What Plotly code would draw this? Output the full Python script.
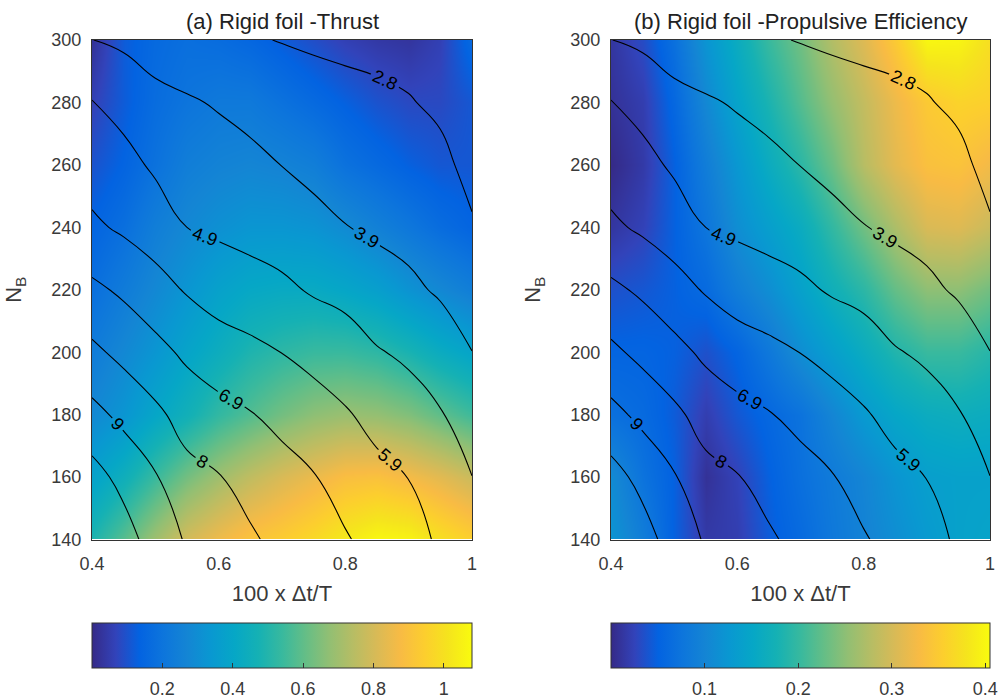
import plotly.graph_objects as go

# ---- grid: 100 x dt/T (columns) and N_B (rows) ----
dt_ratio = [0.40, 0.45, 0.50, 0.55, 0.60, 0.65, 0.70, 0.75, 0.80, 0.85, 0.90, 0.95, 1.00]
n_b = [140, 160, 180, 200, 220, 240, 260, 280, 300]

# thrust coefficient, rows follow n_b
thrust = [
    [0.49, 0.59, 0.70, 0.80, 0.86, 0.91, 0.94, 0.98, 1.03, 1.07, 1.06, 1.00, 0.95],
    [0.38, 0.45, 0.54, 0.63, 0.70, 0.76, 0.81, 0.85, 0.89, 0.90, 0.87, 0.83, 0.78],
    [0.28, 0.33, 0.40, 0.46, 0.53, 0.58, 0.63, 0.67, 0.69, 0.68, 0.65, 0.60, 0.55],
    [0.23, 0.28, 0.33, 0.39, 0.44, 0.49, 0.52, 0.54, 0.54, 0.52, 0.48, 0.43, 0.39],
    [0.18, 0.23, 0.28, 0.33, 0.38, 0.41, 0.42, 0.42, 0.40, 0.37, 0.32, 0.28, 0.24],
    [0.14, 0.18, 0.24, 0.28, 0.31, 0.33, 0.33, 0.32, 0.29, 0.25, 0.21, 0.17, 0.14],
    [0.10, 0.14, 0.19, 0.24, 0.26, 0.27, 0.26, 0.24, 0.19, 0.16, 0.13, 0.11, 0.11],
    [0.06, 0.12, 0.17, 0.20, 0.22, 0.22, 0.19, 0.16, 0.13, 0.10, 0.08, 0.08, 0.11],
    [0.02, 0.12, 0.16, 0.18, 0.17, 0.15, 0.12, 0.09, 0.06, 0.04, 0.03, 0.06, 0.16],
]

# propulsive efficiency, rows follow n_b
efficiency = [
    [0.122, 0.089, 0.049, 0.016, 0.020, 0.045, 0.061, 0.081, 0.097, 0.113, 0.130, 0.142, 0.146],
    [0.109, 0.073, 0.049, 0.008, 0.024, 0.049, 0.069, 0.085, 0.101, 0.122, 0.138, 0.142, 0.142],
    [0.069, 0.061, 0.045, 0.020, 0.041, 0.057, 0.073, 0.101, 0.130, 0.150, 0.162, 0.166, 0.162],
    [0.053, 0.053, 0.049, 0.036, 0.053, 0.081, 0.113, 0.138, 0.162, 0.186, 0.203, 0.203, 0.190],
    [0.036, 0.041, 0.049, 0.061, 0.089, 0.113, 0.142, 0.170, 0.194, 0.227, 0.251, 0.251, 0.235],
    [0.012, 0.024, 0.049, 0.077, 0.113, 0.138, 0.162, 0.198, 0.235, 0.271, 0.304, 0.308, 0.292],
    [0.000, 0.016, 0.049, 0.089, 0.126, 0.162, 0.194, 0.231, 0.279, 0.312, 0.336, 0.340, 0.324],
    [0.008, 0.020, 0.057, 0.105, 0.146, 0.182, 0.219, 0.255, 0.288, 0.320, 0.348, 0.360, 0.356],
    [0.012, 0.032, 0.069, 0.122, 0.162, 0.203, 0.235, 0.275, 0.308, 0.348, 0.400, 0.398, 0.373],
]

# overlaid iso-lines (same field on both panels), rows follow n_b
iso_field = [
    [11.46, 10.44, 9.56, 8.89, 8.48, 8.08, 7.72, 7.37, 7.02, 6.62, 6.21, 5.80, 5.45],
    [10.39, 9.71, 9.07, 8.25, 8.01, 7.65, 7.26, 6.99, 6.56, 6.17, 5.90, 5.38, 4.90],
    [9.29, 8.73, 8.17, 7.59, 7.25, 6.99, 6.70, 6.35, 6.01, 5.62, 5.32, 4.96, 4.39],
    [8.18, 7.69, 7.25, 6.74, 6.39, 6.17, 5.90, 5.61, 5.33, 4.96, 4.72, 4.33, 3.875],
    [7.15, 6.77, 6.28, 5.83, 5.47, 5.25, 5.07, 4.79, 4.62, 4.27, 4.03, 3.76, 3.40],
    [6.09, 5.76, 5.44, 4.89, 4.72, 4.59, 4.43, 4.15, 3.89, 3.72, 3.60, 3.40, 2.92],
    [5.47, 5.21, 4.73, 4.43, 4.27, 4.11, 3.85, 3.62, 3.48, 3.36, 3.25, 3.04, 2.60],
    [4.93, 4.55, 4.16, 3.97, 3.78, 3.55, 3.33, 3.18, 3.08, 2.99, 2.89, 2.69, 2.30],
    [3.875, 3.69, 3.40, 3.21, 3.04, 2.91, 2.81, 2.73, 2.67, 2.63, 2.54, 2.40, 2.00],
]
iso_start, iso_step, iso_end = 2.84, 1.025, 10.1

x_ticks = [0.4, 0.6, 0.8, 1.0]
x_ticktext = ["0.4", "0.6", "0.8", "1"]
y_ticks = [140, 160, 180, 200, 220, 240, 260, 280, 300]
thrust_ticks = [0.2, 0.4, 0.6, 0.8, 1.0]
thrust_ticktext = ["0.2", "0.4", "0.6", "0.8", "1"]
eff_ticks = [0.1, 0.2, 0.3, 0.4]
eff_ticktext = ["0.1", "0.2", "0.3", "0.4"]

titles = ["(a) Rigid foil -Thrust", "(b) Rigid foil -Propulsive Efficiency"]

# parula-style colour scale
parula_rgb = [
    (0.2081, 0.1663, 0.5292), (0.1959, 0.2645, 0.7279), (0.0117, 0.3875, 0.8820),
    (0.0498, 0.4586, 0.8641), (0.0793, 0.5200, 0.8312), (0.0343, 0.5966, 0.8199),
    (0.0228, 0.6535, 0.7768), (0.0843, 0.6928, 0.7062), (0.2178, 0.7250, 0.6193),
    (0.3953, 0.7459, 0.5244), (0.5709, 0.7485, 0.4494), (0.7184, 0.7411, 0.3905),
    (0.8507, 0.7299, 0.3360), (0.9739, 0.7314, 0.2666), (0.9880, 0.8066, 0.1794),
    (0.9589, 0.8949, 0.1132), (0.9763, 0.9831, 0.0538),
]
parula = [
    [i / (len(parula_rgb) - 1), "rgb(%d,%d,%d)" % tuple(round(c * 255) for c in rgb)]
    for i, rgb in enumerate(parula_rgb)
]
clear = [[0, "rgba(0,0,0,0)"], [1, "rgba(0,0,0,0)"]]

FONT = "Liberation Sans, Arial, sans-serif"
TEXT = "#3a3a3a"
W, H = 1001, 698

# panel placement in pixels
panels = [
    dict(x0=92, x1=472),
    dict(x0=611, x1=990),
]
y_top, y_bot = 40, 539.5
cbar_top = 623

fields = [
    dict(z=thrust, zmax=1.08, tv=thrust_ticks, tt=thrust_ticktext),
    dict(z=efficiency, zmax=0.405, tv=eff_ticks, tt=eff_ticktext),
]


def bar_geometry(p):
    return dict(
        orientation="h",
        x=(p["x0"] + p["x1"]) / 2 / W, xanchor="center",
        y=1 - cbar_top / H, yanchor="top",
        len=(p["x1"] - p["x0"]) / W, lenmode="fraction",
        thickness=45, thicknessmode="pixels",
        xpad=0, ypad=0,
    )


fig = go.Figure()
for i, (p, f) in enumerate(zip(panels, fields)):
    xa = "x" if i == 0 else "x2"
    ya = "y" if i == 0 else "y2"
    # coloured field with the bar and its inner tick marks
    fig.add_trace(go.Heatmap(
        x=dt_ratio, y=n_b, z=f["z"], zsmooth="best",
        colorscale=parula, zmin=0, zmax=f["zmax"],
        xaxis=xa, yaxis=ya, hoverinfo="skip",
        colorbar=dict(
            bar_geometry(p),
            outlinewidth=1, outlinecolor="#333333",
            ticks="inside", ticklen=5, tickcolor="#333333",
            tickvals=f["tv"], showticklabels=False,
        ),
    ))
    # transparent copy that only carries the bar's tick labels
    fig.add_trace(go.Heatmap(
        x=dt_ratio, y=n_b, z=f["z"],
        colorscale=clear, zmin=0, zmax=f["zmax"],
        xaxis=xa, yaxis=ya, hoverinfo="skip",
        colorbar=dict(
            bar_geometry(p),
            outlinewidth=0,
            ticks="outside", ticklen=6, tickcolor="rgba(0,0,0,0)",
            tickvals=f["tv"], ticktext=f["tt"],
            tickfont=dict(family=FONT, size=18, color=TEXT),
        ),
    ))
    fig.add_trace(go.Contour(
        x=dt_ratio, y=n_b, z=iso_field,
        xaxis=xa, yaxis=ya, showscale=False, hoverinfo="skip",
        contours=dict(
            start=iso_start, end=iso_end, size=iso_step,
            coloring="none", showlabels=True, labelformat=".2~g",
            labelfont=dict(family=FONT, size=18, color="black"),
        ),
        line=dict(color="black", width=1.1, smoothing=1.3),
    ))

axis_common = dict(
    showline=True, linecolor="#333333", linewidth=1, mirror=True,
    ticks="", showgrid=False, zeroline=False, automargin=False,
    tickfont=dict(family=FONT, size=18, color=TEXT),
)

layout = dict(
    width=W, height=H,
    margin=dict(l=0, r=0, t=0, b=0, autoexpand=False),
    paper_bgcolor="white", plot_bgcolor="white",
    showlegend=False,
    font=dict(family=FONT, color=TEXT),
)
for i, p in enumerate(panels):
    sx = "" if i == 0 else "2"
    layout["xaxis" + sx] = dict(
        axis_common,
        domain=[p["x0"] / W, p["x1"] / W], anchor="y" + sx,
        range=[0.4, 1.0], tickvals=x_ticks, ticktext=x_ticktext,
        ticklabelstandoff=8,
        title=dict(text="100 x \u0394t/T", font=dict(family=FONT, size=22, color=TEXT), standoff=12),
    )
    layout["yaxis" + sx] = dict(
        axis_common,
        domain=[1 - y_bot / H, 1 - y_top / H], anchor="x" + sx,
        range=[140, 300], tickvals=y_ticks,
        ticklabelstandoff=6,
        title=dict(text="N<sub>B</sub>", font=dict(family=FONT, size=22, color=TEXT), standoff=23),
    )

fig.update_layout(**layout)

for i, p in enumerate(panels):
    fig.add_annotation(
        text=titles[i], xref="paper", yref="paper",
        x=(p["x0"] + p["x1"]) / 2 / W, y=1 - 21 / H,
        xanchor="center", yanchor="middle", showarrow=False,
        font=dict(family=FONT, size=22, color="#222222"),
    )

fig.write_html("out.html")
